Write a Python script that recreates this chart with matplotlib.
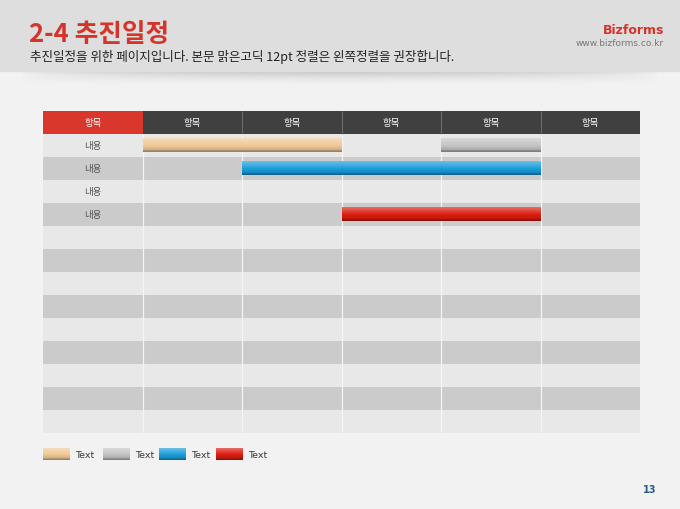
import numpy as np
import matplotlib
matplotlib.use("Agg")
import matplotlib.pyplot as plt
from matplotlib.colors import to_rgb
from matplotlib.patches import Rectangle

plt.rcParams['font.family'] = ['Noto Sans CJK KR', 'DejaVu Sans']

# ---- data ----
title = "2-4 추진일정"
subtitle = "추진일정을 위한 페이지입니다. 본문 맑은고딕 12pt 정렬은 왼쪽정렬을 권장합니다."
col_labels = ["항목", "항목", "항목", "항목", "항목", "항목"]
row_labels = ["내용", "내용", "내용", "내용", "", "", "", "", "", "", "", "", ""]
bar_rows = [0, 0, 1, 3]
bar_starts = [1, 4, 2, 3]
bar_ends = [3, 5, 5, 5]
bar_series = [0, 1, 2, 3]
series_names = ["Text", "Text", "Text", "Text"]
series_colors = ["#f0c896", "#c4c4c4", "#1a9ddb", "#dc1c0f"]
page_number = "13"

W, H = 680, 510
fig = plt.figure(figsize=(W / 100, H / 100), dpi=100)
fig.patch.set_facecolor("#f2f2f2")

# ---- background / header band ----
bg = fig.add_axes([0, 0, 1, 1])
bg.set_xlim(0, W)
bg.set_ylim(H, 0)
bg.axis("off")
bg.add_patch(Rectangle((0, 0), W, 72, color="#dedede", zorder=1))
# shadow below band
sh = np.linspace(0, 1, 20)[:, None]
shade = np.ones((20, 200, 4))
shade[..., :3] = 0.45
xs = np.linspace(-1, 1, 200)[None, :]
shade[..., 3] = 0.35 * (1 - sh) ** 2 * (1 - xs ** 2) ** 0.6
bg.imshow(shade, extent=(20, 660, 88, 72), aspect="auto", zorder=0.5)
bg.text(29, 35, title, color="#d6342b", fontsize=18.5, fontweight="bold", va="center", ha="left", zorder=2)
bg.text(30, 57, subtitle, color="#222222", fontsize=9.05, va="center", ha="left", zorder=2)
bg.text(664, 30, "Bizforms", color="#d6342b", fontsize=9, fontweight="bold", ha="right", va="center",
        family=["Liberation Sans Narrow", "DejaVu Sans"], zorder=2)
bg.text(664, 44, "www.bizforms.co.kr", color="#777777", fontsize=6.5, ha="right", va="center",
        family=["Liberation Sans Narrow", "DejaVu Sans"], zorder=2)
bg.text(650, 490, page_number, color="#2a5a8c", fontsize=7, fontweight="bold", ha="center", va="center",
        family=["DejaVu Sans"], zorder=2)


def shade_color(c, f):
    r = np.array(to_rgb(c))
    if f >= 0:
        return r + (1 - r) * f
    return r * (1 + f)


def grad_image(c):
    t = np.linspace(0, 1, 40)
    top = shade_color(c, 0.35)
    mid = np.array(to_rgb(c))
    bot = shade_color(c, -0.15)
    rows = []
    for v in t:
        if v < 0.55:
            col = top + (mid - top) * (v / 0.55)
        elif v < 0.88:
            col = mid + (bot - mid) * ((v - 0.55) / 0.33)
        else:
            col = shade_color(c, -0.35)
        rows.append(col)
    return np.clip(np.array(rows)[:, None, :], 0, 1)


# ---- table ----
nrows = len(row_labels)
ncols = len(col_labels)
x0, x1, y0, y1 = 43, 640, 112, 434
ax = fig.add_axes([x0 / W, 1 - y1 / H, (x1 - x0) / W, (y1 - y0) / H])
ax.set_xlim(0, ncols)
ax.set_ylim(nrows, -1)
ax.axis("off")

# header
for j, lab in enumerate(col_labels):
    ax.barh(-0.5, 1, left=j, height=1, color="#d9362c" if j == 0 else "#404040", zorder=1)
    ax.text(j + 0.5, -0.5, lab, color="white", fontsize=6.8, ha="center", va="center", zorder=3)
ax.vlines(np.arange(2, ncols), -1, 0, color="#6a6a6a", lw=0.8, zorder=2)

# rows
for i, lab in enumerate(row_labels):
    ax.barh(i + 0.5, ncols, left=0, height=1, color="#e8e8e8" if i % 2 == 0 else "#cbcbcb", zorder=1)
    if lab:
        ax.text(0.5, i + 0.5, lab, color="#555555", fontsize=6.8, ha="center", va="center", zorder=3)
ax.vlines(np.arange(1, ncols), 0, nrows, color="#f4f4f4", lw=0.9, zorder=2)

# bars
bh = 0.58
for r, s, e, k in zip(bar_rows, bar_starts, bar_ends, bar_series):
    ax.imshow(grad_image(series_colors[k]), extent=(s, e, r + 0.5 + bh / 2, r + 0.5 - bh / 2),
              aspect="auto", interpolation="bilinear", zorder=4)
ax.set_xlim(0, ncols)
ax.set_ylim(nrows, -1)

# ---- legend ----
lg = fig.add_axes([0, 0, 1, 1], facecolor="none")
lg.set_xlim(0, W)
lg.set_ylim(H, 0)
lg.axis("off")
leg_x = [43, 103, 159, 216]
for k, (name, c) in enumerate(zip(series_names, series_colors)):
    lx = leg_x[k]
    lg.imshow(grad_image(c), extent=(lx, lx + 27, 461, 449), aspect="auto", interpolation="bilinear", zorder=3)
    lg.text(lx + 32, 455.5, name, color="#3a3a3a", fontsize=6.8, ha="left", va="center", family=["DejaVu Sans"])
lg.set_xlim(0, W)
lg.set_ylim(H, 0)

fig.savefig("out.png", dpi=100, facecolor=fig.get_facecolor())
